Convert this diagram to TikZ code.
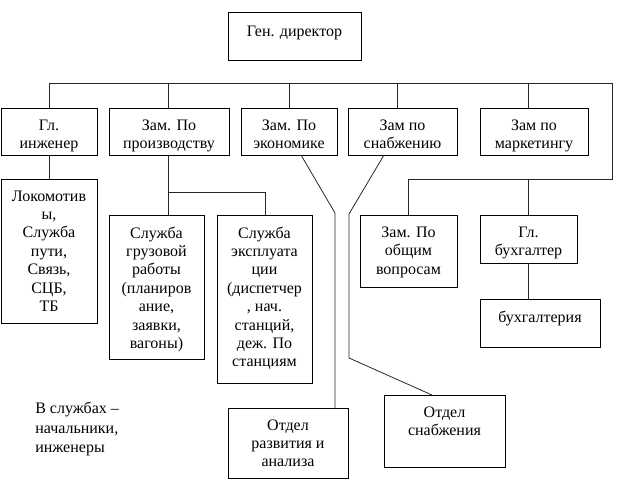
\documentclass[tikz,border=0pt]{standalone}
\usepackage{fontspec}
\setmainfont{Liberation Serif}
\begin{document}
\begin{tikzpicture}[x=0.75pt,y=-0.75pt,
  box/.style={draw=black, line width=0.6pt, inner sep=0pt, outer sep=0pt},
  sz/.style 2 args={minimum width=#1*0.75pt, minimum height=#2*0.75pt},
  lbl/.style={anchor=north, yshift=-8.5pt, align=center, inner sep=0pt, font=\fontsize{12}{13.8}\selectfont},
  conn/.style={draw=black!85, line width=0.6pt},
  note/.style={anchor=north west, align=left, inner sep=0pt, font=\fontsize{12}{14.6}\selectfont}]
\useasboundingbox (0,0) rectangle (637,492);
% boxes
\node[box, sz={133}{48}, label={[lbl, yshift=-1.5pt]north:{Ген. директор}}] (dir) at (294.5,36) {};
\node[box, sz={96}{47}, label={[lbl]north:{Гл.\\инженер}}] (ing) at (49,131.5) {};
\node[box, sz={120}{47}, label={[lbl]north:{Зам. По\\производству}}] (prod) at (169,131.5) {};
\node[box, sz={96}{47}, label={[lbl]north:{Зам. По\\экономике}}] (econ) at (289,131.5) {};
\node[box, sz={109}{47}, label={[lbl]north:{Зам по\\снабжению}}] (snab) at (402.5,131.5) {};
\node[box, sz={108}{47}, label={[lbl]north:{Зам по\\маркетингу}}] (mark) at (534,131.5) {};
\node[box, sz={96}{144}, label={[lbl]north:{Локомотив\\ы,\\Служба\\пути,\\Связь,\\СЦБ,\\ТБ}}] (lok) at (49,251) {};
\node[box, sz={95}{144}, label={[lbl]north:{Служба\\грузовой\\работы\\(планиров\\ание,\\заявки,\\вагоны)}}] (grz) at (156.5,287) {};
\node[box, sz={95}{168}, label={[lbl]north:{Служба\\эксплуата\\ции\\(диспетчер\\, нач.\\станций,\\деж. По\\станциям}}] (expl) at (264.5,299) {};
\node[box, sz={97}{72}, label={[lbl]north:{Зам. По\\общим\\вопросам}}] (obsh) at (408.5,251) {};
\node[box, sz={97}{48}, label={[lbl]north:{Гл.\\бухгалтер}}] (buh) at (528.5,239) {};
\node[box, sz={120}{48}, label={[lbl]north:{бухгалтерия}}] (buhg) at (540,323) {};
\node[box, sz={120}{70}, label={[lbl]north:{Отдел\\развития и\\анализа}}] (razv) at (288,443) {};
\node[box, sz={121}{72}, label={[lbl]north:{Отдел\\снабжения}}] (otsn) at (444.5,431) {};
\node[note] (nt) at (35,402) {В службах –\\начальники,\\инженеры};
% bus
\coordinate (bL) at (49,83);
\coordinate (bR) at (612,83);
\coordinate (rC) at (612,179);
\coordinate (rL) at (408,179);
\coordinate (b2) at (168,83);
\coordinate (b3) at (289,83);
\coordinate (b4) at (397,83);
\coordinate (b5) at (528,83);
\coordinate (r5) at (528,179);
\draw[conn] (bL |- ing.north) -- (bL) -- (bR) -- (rC) -- (rL) -- (rL |- obsh.north);
\draw[conn] (b2) -- (b2 |- prod.north);
\draw[conn] (b3) -- (b3 |- econ.north);
\draw[conn] (b4) -- (b4 |- snab.north);
\draw[conn] (b5) -- (b5 |- mark.north);
\draw[conn] (r5) -- (r5 |- buh.north);
\draw[conn] (ing.south) -- (lok.north);
\draw[conn] (r5 |- buh.south) -- (r5 |- buhg.north);
% production
\coordinate (pj) at (168,192);
\coordinate (pe) at (265,192);
\draw[conn] (b2 |- prod.south) -- (b2 |- grz.north);
\draw[conn] (pj) -- (pe) -- (pe |- expl.north);
% economics
\coordinate (e0) at (301,155);
\coordinate (e1) at (335,213);
\draw[conn] (e0) -- (e1) -- (e1 |- razv.north);
% supply
\coordinate (s0) at (384,155);
\coordinate (s1) at (349,214);
\coordinate (s2) at (349,358);
\coordinate (s3) at (432,395);
\draw[conn] (s0) -- (s1) -- (s2) -- (s3);
\end{tikzpicture}
\end{document}
